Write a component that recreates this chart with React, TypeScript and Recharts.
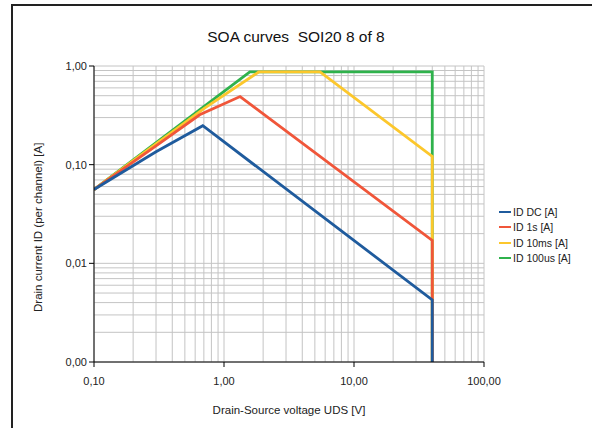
import React from "react";
import { LineChart, Line, XAxis, YAxis, CartesianGrid } from "recharts";

// Drain-source voltage [V] / drain current [A] per curve
const dcV = [0.1, 0.3, 0.687, 40, 40];
const dcI = [0.056, 0.135, 0.248, 0.00426, 0.001];
const s1V = [0.1, 0.3, 0.65, 1.33, 40, 40];
const s1I = [0.056, 0.155, 0.32, 0.49, 0.0171, 0.001];
const ms10V = [0.1, 0.7, 1.85, 5.48, 40, 40];
const ms10I = [0.056, 0.37, 0.87, 0.87, 0.121, 0.001];
const us100V = [0.1, 1.58, 40, 40];
const us100I = [0.056, 0.87, 0.87, 0.001];

const xDecades = [0.1, 1, 10, 100];
const yDecades = [0.001, 0.01, 0.1, 1];
const xLabels = ["0,10", "1,00", "10,00", "100,00"];
const yLabels = ["0,00", "0,01", "0,10", "1,00"];
const minorSteps = [1, 2, 3, 4, 5, 6, 7, 8, 9];

const withMinors = (decades: number[]) =>
  decades.slice(0, -1).flatMap((d) => minorSteps.map((m) => d * m)).concat(decades[decades.length - 1]);

const xTicks = withMinors(xDecades);
const yTicks = withMinors(yDecades);

const series = [
  { name: "ID DC [A]", color: "#1f5b9d", v: dcV, i: dcI },
  { name: "ID 1s [A]", color: "#f0563a", v: s1V, i: s1I },
  { name: "ID 10ms [A]", color: "#fcc72c", v: ms10V, i: ms10I },
  { name: "ID 100us [A]", color: "#2fb24c", v: us100V, i: us100I },
];

const FONT = "'Liberation Sans', Arial, sans-serif";

const XTick = (props: any) => {
  const { x, y, payload } = props;
  const idx = xDecades.indexOf(payload.value);
  if (idx < 0) return null;
  return (
    <g>
      <line x1={x} x2={x} y1={y - 5} y2={y} stroke="#000" strokeWidth={1} />
      <text x={x} y={y + 18} textAnchor="middle" fontSize={11} fill="#222" fontFamily={FONT}>
        {xLabels[idx]}
      </text>
    </g>
  );
};

const YTick = (props: any) => {
  const { x, y, payload } = props;
  const idx = yDecades.indexOf(payload.value);
  if (idx < 0) return null;
  return (
    <g>
      <line x1={x} x2={x + 5} y1={y} y2={y} stroke="#000" strokeWidth={1} />
      <text x={x - 2} y={y + 4} textAnchor="end" fontSize={11} fill="#222" fontFamily={FONT}>
        {yLabels[idx]}
      </text>
    </g>
  );
};

const LegendBox = () => (
  <div style={{ position: "absolute", left: 499, top: 204, fontFamily: FONT, fontSize: 10.5, color: "#222" }}>
    {series.map((s) => (
      <div key={s.name} style={{ display: "flex", alignItems: "center", height: 15.5, whiteSpace: "nowrap" }}>
        <span style={{ display: "inline-block", width: 12, height: 2, background: s.color, marginRight: 2 }} />
        {s.name}
      </div>
    ))}
  </div>
);

export default function App() {
  const drawOrder = [...series].reverse();
  return (
    <div style={{ position: "absolute", left: 0, top: 0, width: 592, height: 428, overflow: "hidden", background: "#fff" }}>
      <div
        style={{
          position: "absolute",
          left: 11,
          top: 4,
          width: 640,
          height: 480,
          borderLeft: "2px solid #222",
          borderTop: "2px solid #222",
        }}
      />
      <div
        style={{
          position: "absolute",
          left: 0,
          width: 592,
          top: 28,
          textAlign: "center",
          fontFamily: FONT,
          fontSize: 15.5,
          color: "#111",
          whiteSpace: "pre",
        }}
      >
        {"SOA curves  SOI20 8 of 8"}
      </div>
      <div style={{ position: "absolute", left: 0, top: 0 }}>
        <LineChart width={592} height={428} margin={{ top: 66, right: 108, bottom: 26, left: 34 }}>
          <CartesianGrid stroke="#c4c4c4" strokeWidth={1} />
          <XAxis
            type="number"
            dataKey="v"
            scale="log"
            domain={[0.1, 100]}
            ticks={xTicks}
            interval={0}
            allowDataOverflow
            tickSize={5}
            tickMargin={0}
            tickLine={false}
            tick={<XTick />}
            stroke="#000"
            height={40}
            label={{ value: "Drain-Source voltage UDS [V]", position: "insideBottom", offset: -12, fontSize: 11.5, fill: "#222", fontFamily: FONT }}
          />
          <YAxis
            type="number"
            dataKey="i"
            scale="log"
            domain={[0.001, 1]}
            ticks={yTicks}
            interval={0}
            allowDataOverflow
            tickSize={5}
            tickMargin={0}
            tickLine={false}
            tick={<YTick />}
            stroke="#000"
            width={60}
            label={{ value: "Drain current ID (per channel) [A]", angle: -90, position: "insideLeft", offset: 4, dy: 98, fontSize: 11.5, fill: "#222", fontFamily: FONT }}
          />
          {drawOrder.map((s) => (
            <Line
              key={s.name}
              name={s.name}
              data={s.v.map((v, k) => ({ v, i: s.i[k] }))}
              dataKey="i"
              type="linear"
              stroke={s.color}
              strokeWidth={2.8}
              dot={false}
              activeDot={false}
              isAnimationActive={false}
            />
          ))}
        </LineChart>
      </div>
      <LegendBox />
    </div>
  );
}
